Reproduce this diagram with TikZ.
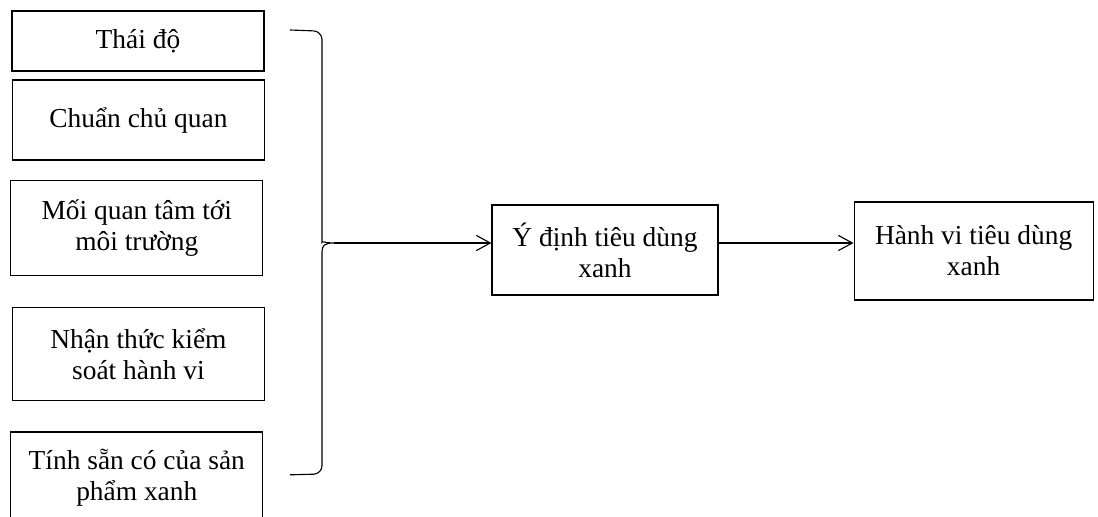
\documentclass[tikz,border=0pt]{standalone}
\usepackage{fontspec}
\setmainfont{Liberation Serif}
\usetikzlibrary{positioning,arrows.meta}

\begin{document}
\begin{tikzpicture}[font=\fontsize{19.5}{22}\selectfont,
  fbox/.style={draw,line width=0.8pt,align=center,inner sep=0pt,minimum width=6.3cm},
  ar/.style={-{Straight Barb[length=3.5mm,width=3.8mm]},line width=0.8pt},
]
\useasboundingbox (0,0) rectangle (27.45,-12.9);

\node[fbox,minimum height=1.5cm]   at (3.45,-1.025) (att) {Thái độ};
\node[fbox,minimum height=2.0cm]   at (3.46,-3.0)   (norm) {Chuẩn chủ quan};
\node[fbox,minimum height=2.375cm] at (3.42,-5.71)  (env) {Mối quan tâm tới\\môi trường};
\node[fbox,minimum height=2.325cm] at (3.46,-8.86)  (pbc) {Nhận thức kiểm\\soát hành vi};
\node[fbox,minimum height=2.3cm]   at (3.42,-11.95) (avail) {Tính sẵn có của sản\\phẩm xanh};

\node[fbox,minimum width=5.65cm,minimum height=2.25cm]  at (15.125,-6.25) (intent) {Ý định tiêu dùng\\xanh};
\node[fbox,minimum width=5.975cm,minimum height=2.45cm] at (24.34,-6.275) (behav) {Hành vi tiêu dùng\\xanh};

% brace
\draw[line width=0.8pt] (7.25,-0.75) [rounded corners=6pt] -- (8.05,-0.78) -- (8.05,-5.85) [sharp corners]
  .. controls (8.05,-6.02) and (8.12,-6.075) .. (8.35,-6.075) coordinate (tip)
  .. controls (8.12,-6.075) and (8.05,-6.13) .. (8.05,-6.3) [rounded corners=6pt]
  -- (8.05,-11.85) -- (7.25,-11.87);

\draw[ar] (tip) -- (tip -| intent.west);
\draw[ar] (intent.east |- tip) -- (tip -| behav.west);
\end{tikzpicture}
\end{document}
